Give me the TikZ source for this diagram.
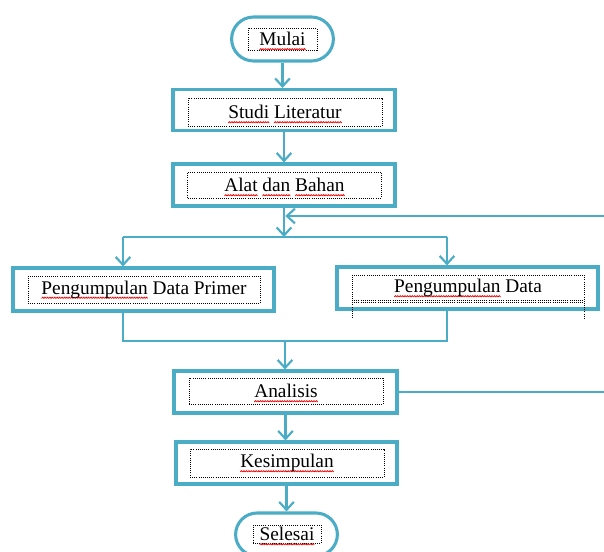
\documentclass[tikz,border=0pt]{standalone}
\usepackage{fontspec}
\setmainfont{Liberation Serif}
\usepackage{xcolor}
\usetikzlibrary{arrows.meta}
\usetikzlibrary{shapes.misc}
\definecolor{garisbiru}{RGB}{75,172,198}
\newsavebox\katabox
\newlength\katalebar
\newcommand\salah[1]{\leavevmode\sbox\katabox{#1}\setlength\katalebar{\wd\katabox}%
 \rlap{\raisebox{-3.2pt}[0pt][0pt]{\xleaders\hbox to 1.8pt{\tikz[overlay]\draw[red,line width=0.6pt] (0pt,0pt) -- (0.9pt,0.9pt) -- (1.8pt,0pt);\hss}\hskip\katalebar}}%
 \usebox\katabox}
\tikzset{langkah/.style={draw=garisbiru,line width=2.3pt,rectangle,minimum height=31.5pt},
 batas/.style={draw=garisbiru,line width=2.3pt,rounded rectangle,minimum width=83pt,minimum height=33pt},
 isi/.style={draw=black,densely dotted,line width=0.6pt,inner sep=0pt,font=\fontsize{14.5}{17}\selectfont},
 alur/.style={draw=garisbiru,line width=1.6pt},
 panah/.style={alur,-{Straight Barb[length=6pt,width=11pt]}},
 }

\begin{document}
\begin{tikzpicture}[x=0.75pt,y=-0.75pt]
        \useasboundingbox (0,0) rectangle (604,552);
        \clip (0,0) rectangle (604,552);
        % kotak luar
        \node[batas] (mulai) at (282.5,39) {};
        \node[langkah,minimum width=166.5pt,minimum height=30.75pt] (studi) at (284,110) {};
        \node[langkah,minimum width=166.5pt] (alat) at (284,185) {};
        \node[langkah,minimum width=195.75pt,minimum height=32.25pt] (primer) at (143.5,289.5) {};
        \node[langkah,minimum width=195.75pt] (sekunder) at (467.5,288) {};
        \node[langkah,minimum width=167.25pt] (analisis) at (285.5,392) {};
        \node[langkah,minimum width=165.75pt] (kesimpulan) at (286.5,463) {};
        \node[batas,minimum height=32.25pt] (selesai) at (286.5,534.5) {};
        % kotak teks bertitik
        \node[isi,minimum width=51.75pt,minimum height=16.5pt] (tmulai) at (282.5,39) {\salah{Mulai}};
        \node[isi,minimum width=145.5pt,minimum height=21pt] (tstudi) at (285,112) {\salah{Studi} \salah{Literatur}};
        \node[isi,minimum width=145pt,minimum height=19.5pt] (talat) at (284.5,185) {\salah{Alat} \salah{dan} \salah{Bahan}};
        \node[isi,minimum width=174pt,minimum height=20.25pt] (tprimer) at (144,289.5) {\salah{Pengumpulan} Data Primer};
        \node[isi,draw=none] (tsekunder) at (468,288) {\salah{Pengumpulan} Data};
        \draw[isi] (352,318) -- (352,275) -- (584,275) -- (584,318);
        \draw[isi] (352,300) -- (584,300);
        \draw[isi] (352,302.5) -- (584,302.5);
        \node[isi,minimum width=145.5pt,minimum height=19.5pt] (tanalisis) at (286,391) {\salah{Analisis}};
        \node[isi,minimum width=145.5pt,minimum height=21pt] (tkesimpulan) at (287,463) {\salah{Kesimpulan}};
        \node[isi,minimum width=51pt,minimum height=13.5pt] (tselesai) at (287,534) {\salah{Selesai}};
        % alur
        \coordinate (cabang) at (284,237);
        \coordinate (kiri) at (123,237);
        \coordinate (kanan) at (447,237);
        \coordinate (gabung) at (285,341);
        \coordinate (balik) at (620,216);
        \draw[panah] (mulai.south) -- (mulai.south |- studi.north);
        \draw[panah] (studi.south) -- (studi.south |- alat.north);
        \draw[panah] (alat.south) -- (cabang);
        \draw[alur] (kiri) -- (kanan);
        \draw[panah] (kiri) -- (kiri |- primer.north);
        \draw[panah] (kanan) -- (kanan |- sekunder.north);
        \draw[alur] (kiri |- primer.south) -- (kiri |- gabung) -- (kanan |- gabung) -- (kanan |- sekunder.south);
        \draw[panah] (gabung) -- (gabung |- analisis.north);
        \draw[panah] (analisis.east) -| (balik) -- ([xshift=1pt]balik -| alat.south);
        \draw[panah] (analisis.south) -- (analisis.south |- kesimpulan.north);
        \draw[panah] (kesimpulan.south) -- (kesimpulan.south |- selesai.north);
    \end{tikzpicture}
\end{document}
